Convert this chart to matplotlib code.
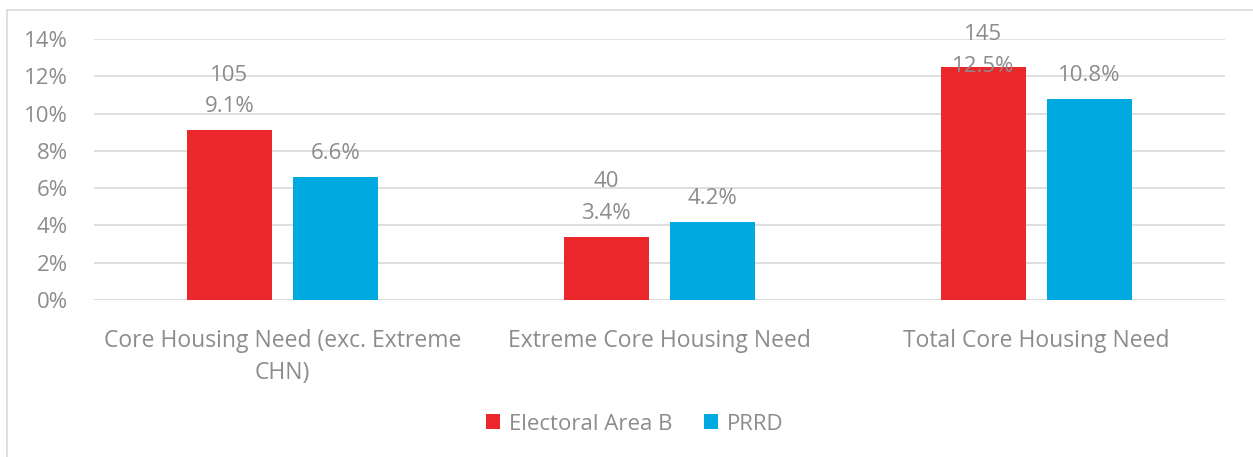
import matplotlib.pyplot as plt
import numpy as np
from matplotlib.patches import Rectangle

categories = ['Core Housing Need (exc. Extreme\nCHN)', 'Extreme Core Housing Need', 'Total Core Housing Need']
area_b = [9.1, 3.4, 12.5]
prrd = [6.6, 4.2, 10.8]
area_b_counts = [105, 40, 145]
series_names = ['Electoral Area B', 'PRRD']

RED = '#ea272a'
BLUE = '#00aae0'
GREY = '#8c8c8c'

plt.rcParams['font.family'] = ['Open Sans', 'DejaVu Sans']

fig = plt.figure(figsize=(12.53, 4.57), dpi=100)
W, H = 1253, 457
ax = fig.add_axes([94 / W, 1 - 300 / H, (1225 - 94) / W, (300 - 39) / H])

# chart frame
fig.patches.append(Rectangle((7 / W, -0.1), 1.2, 1 - 10 / H + 0.1, transform=fig.transFigure,
                             fill=False, edgecolor='#d9d9d9', linewidth=1.2))

x = np.arange(len(categories))
w = 0.224
off = 0.141
b1 = ax.bar(x - off, area_b, w, color=RED, label=series_names[0], zorder=3)
b2 = ax.bar(x + off, prrd, w, color=BLUE, label=series_names[1], zorder=3)

# labels sit ~18px above the bar, but get pushed down near the top of the plot (like Excel)
lift = 0.97
cap = 12.25
for xi, v, n in zip(x - off, area_b, area_b_counts):
    ax.text(xi, min(v + lift, cap), f'{n}\n{v:.1f}%', ha='center', va='baseline',
            fontsize=16, color=GREY, linespacing=1.67, zorder=4)
for xi, v in zip(x + off, prrd):
    ax.text(xi, min(v + lift, cap), f'{v:.1f}%', ha='center', va='baseline',
            fontsize=16, color=GREY, zorder=4)

ax.set_xlim(-0.5, len(categories) - 0.5)
ax.set_ylim(0, 14)
ax.set_yticks(np.arange(0, 15, 2))
ax.set_yticklabels([f'{t}%' for t in range(0, 15, 2)])
ax.set_xticks(x)
ax.set_xticklabels(categories)
for t in ax.get_xticklabels():
    t.set_linespacing(1.45)
ax.tick_params(axis='y', length=0, labelsize=16, labelcolor=GREY, pad=19)
ax.tick_params(axis='x', length=0, labelsize=16.5, labelcolor=GREY, pad=21)
ax.grid(axis='y', color='#d9d9d9', linewidth=1.2, zorder=0)
for s in ax.spines.values():
    s.set_visible(False)
ax.axhline(0, color='#d9d9d9', linewidth=1.2, zorder=1)

fig.legend(handles=[b1, b2], loc='center', bbox_to_anchor=(635 / W, 1 - 424 / H), ncol=2,
           frameon=False, fontsize=16, labelcolor=GREY, handlelength=0.65, handleheight=0.65,
           handletextpad=0.4, columnspacing=1.4)

fig.savefig('out.png', dpi=100)
